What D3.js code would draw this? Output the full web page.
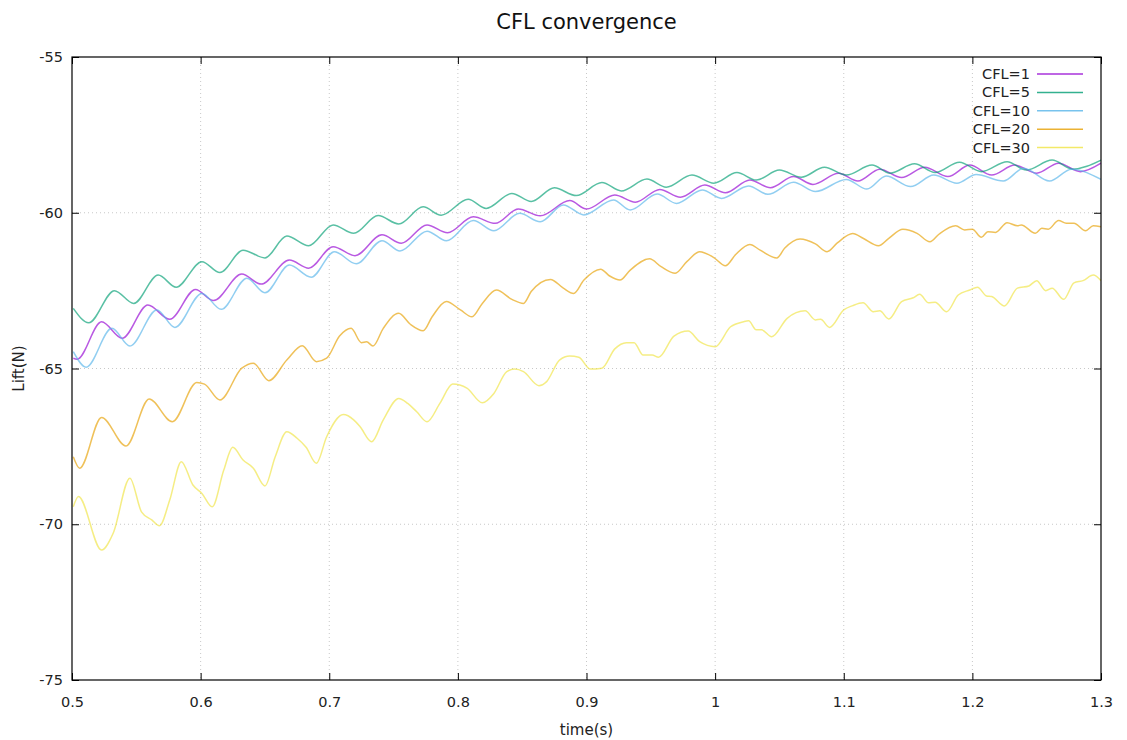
<!DOCTYPE html>
<html>
<head>
<meta charset="utf-8">
<script src="https://cdn.jsdelivr.net/npm/d3@7"></script>
<style>
    body { margin: 0; background: #fff; }
    svg { font-family: 'DejaVu Sans', sans-serif; }
</style>
</head>
<body>
<div class="js-chart"></div>
<script>
'use strict';

//series values as [time, lift]
var cfl1 = [
    [0.501, -64.67], [0.504, -64.70], [0.523, -63.50], [0.539, -64.03], [0.559, -62.96], [0.576, -63.42],
    [0.596, -62.46], [0.610, -62.82], [0.632, -61.97], [0.647, -62.29], [0.669, -61.52], [0.684, -61.78],
    [0.703, -61.09], [0.720, -61.38], [0.741, -60.71], [0.756, -60.98], [0.776, -60.39], [0.792, -60.64],
    [0.812, -60.13], [0.829, -60.34], [0.847, -59.88], [0.864, -60.10], [0.887, -59.61], [0.900, -59.88],
    [0.922, -59.43], [0.938, -59.66], [0.957, -59.25], [0.973, -59.50], [0.992, -59.11], [1.008, -59.36],
    [1.027, -58.95], [1.043, -59.20], [1.061, -58.84], [1.076, -59.09], [1.096, -58.73], [1.111, -58.98],
    [1.128, -58.60], [1.145, -58.87], [1.163, -58.54], [1.181, -58.84], [1.198, -58.47], [1.215, -58.79],
    [1.233, -58.47], [1.250, -58.73], [1.267, -58.41], [1.284, -58.68], [1.300, -58.41]
];

var cfl5 = [
    [0.501, -63.07], [0.513, -63.53], [0.533, -62.50], [0.548, -62.91], [0.567, -62.00], [0.581, -62.39],
    [0.601, -61.57], [0.615, -61.92], [0.633, -61.20], [0.650, -61.45], [0.667, -60.75], [0.684, -61.06],
    [0.703, -60.39], [0.719, -60.66], [0.738, -60.09], [0.754, -60.36], [0.773, -59.81], [0.787, -60.08],
    [0.808, -59.57], [0.822, -59.86], [0.842, -59.38], [0.857, -59.64], [0.875, -59.20], [0.892, -59.45],
    [0.912, -59.03], [0.927, -59.30], [0.947, -58.92], [0.962, -59.18], [0.982, -58.79], [0.999, -59.05],
    [1.017, -58.71], [1.032, -58.95], [1.050, -58.63], [1.067, -58.86], [1.085, -58.54], [1.102, -58.79],
    [1.122, -58.47], [1.136, -58.73], [1.155, -58.43], [1.171, -58.71], [1.190, -58.38], [1.207, -58.68],
    [1.227, -58.36], [1.242, -58.63], [1.262, -58.31], [1.278, -58.60], [1.300, -58.31]
];

var cfl10 = [
    [0.501, -64.46], [0.511, -64.96], [0.531, -63.71], [0.545, -64.28], [0.566, -63.12], [0.580, -63.68],
    [0.601, -62.59], [0.616, -63.10], [0.636, -62.10], [0.650, -62.57], [0.669, -61.68], [0.686, -62.07],
    [0.704, -61.25], [0.721, -61.64], [0.741, -60.90], [0.755, -61.23], [0.776, -60.59], [0.791, -60.90],
    [0.812, -60.25], [0.828, -60.58], [0.848, -60.02], [0.864, -60.29], [0.882, -59.75], [0.898, -60.07],
    [0.921, -59.59], [0.934, -59.91], [0.955, -59.40], [0.970, -59.70], [0.990, -59.27], [1.005, -59.54],
    [1.026, -59.14], [1.041, -59.41], [1.061, -59.02], [1.078, -59.32], [1.102, -58.93], [1.118, -59.24],
    [1.133, -58.82], [1.152, -59.16], [1.170, -58.79], [1.188, -59.05], [1.203, -58.77], [1.224, -58.98],
    [1.240, -58.57], [1.260, -58.98], [1.277, -58.60], [1.300, -58.93]
];

var cfl20 = [
    [0.501, -67.83], [0.506, -68.20], [0.523, -66.57], [0.542, -67.49], [0.560, -65.98], [0.578, -66.71],
    [0.597, -65.45], [0.603, -65.50], [0.615, -66.01], [0.632, -64.99], [0.641, -64.83], [0.653, -65.39],
    [0.667, -64.73], [0.679, -64.27], [0.690, -64.78], [0.698, -64.67], [0.708, -63.96], [0.717, -63.71],
    [0.725, -64.17], [0.729, -64.14], [0.734, -64.28], [0.742, -63.71], [0.754, -63.23], [0.763, -63.58],
    [0.773, -63.79], [0.780, -63.34], [0.791, -62.85], [0.802, -63.12], [0.811, -63.34], [0.819, -62.91],
    [0.830, -62.48], [0.842, -62.78], [0.851, -62.91], [0.857, -62.53], [0.872, -62.14], [0.882, -62.42],
    [0.890, -62.59], [0.898, -62.16], [0.911, -61.81], [0.918, -62.03], [0.926, -62.16], [0.934, -61.84],
    [0.949, -61.48], [0.958, -61.73], [0.969, -61.94], [0.978, -61.57], [0.988, -61.25], [0.999, -61.44],
    [1.008, -61.70], [1.016, -61.34], [1.027, -61.02], [1.035, -61.20], [1.048, -61.45], [1.054, -61.14],
    [1.066, -60.84], [1.078, -61.00], [1.087, -61.25], [1.095, -60.97], [1.107, -60.67], [1.115, -60.82],
    [1.127, -61.06], [1.135, -60.82], [1.146, -60.53], [1.157, -60.66], [1.167, -60.93], [1.174, -60.69],
    [1.187, -60.42], [1.194, -60.55], [1.200, -60.53], [1.207, -60.79], [1.212, -60.61], [1.218, -60.63],
    [1.227, -60.32], [1.235, -60.42], [1.238, -60.39], [1.249, -60.66], [1.254, -60.50], [1.259, -60.53],
    [1.267, -60.25], [1.273, -60.34], [1.279, -60.34], [1.288, -60.58], [1.294, -60.42], [1.300, -60.45]
];

var cfl30 = [
    [0.501, -69.44], [0.505, -69.11], [0.523, -70.83], [0.532, -70.29], [0.545, -68.52], [0.554, -69.60],
    [0.562, -69.86], [0.568, -70.05], [0.576, -69.22], [0.585, -67.99], [0.594, -68.74], [0.601, -69.01],
    [0.609, -69.44], [0.618, -68.26], [0.625, -67.53], [0.633, -67.94], [0.641, -68.20], [0.650, -68.77],
    [0.658, -67.83], [0.667, -67.03], [0.675, -67.24], [0.682, -67.53], [0.690, -68.04], [0.698, -67.19],
    [0.711, -66.48], [0.719, -66.65], [0.724, -66.87], [0.733, -67.35], [0.742, -66.65], [0.754, -65.96],
    [0.761, -66.12], [0.768, -66.39], [0.776, -66.71], [0.786, -66.12], [0.796, -65.50], [0.807, -65.63],
    [0.819, -66.10], [0.828, -65.80], [0.838, -65.10], [0.844, -65.02], [0.851, -65.10], [0.863, -65.55],
    [0.869, -65.42], [0.879, -64.73], [0.887, -64.60], [0.894, -64.64], [0.903, -65.02], [0.912, -64.99],
    [0.922, -64.37], [0.931, -64.17], [0.937, -64.17], [0.944, -64.57], [0.951, -64.57], [0.956, -64.64],
    [0.968, -63.96], [0.979, -63.80], [0.988, -64.14], [1.000, -64.30], [1.012, -63.66], [1.022, -63.50],
    [1.026, -63.47], [1.032, -63.76], [1.036, -63.76], [1.044, -63.98], [1.056, -63.39], [1.070, -63.15],
    [1.078, -63.44], [1.082, -63.42], [1.089, -63.68], [1.100, -63.12], [1.107, -62.98], [1.115, -62.89],
    [1.123, -63.18], [1.128, -63.15], [1.135, -63.41], [1.145, -62.85], [1.154, -62.73], [1.159, -62.62],
    [1.166, -62.89], [1.171, -62.87], [1.180, -63.18], [1.189, -62.64], [1.198, -62.48], [1.204, -62.39],
    [1.211, -62.67], [1.215, -62.69], [1.225, -62.99], [1.235, -62.42], [1.244, -62.35], [1.250, -62.18],
    [1.257, -62.50], [1.262, -62.42], [1.271, -62.78], [1.279, -62.25], [1.286, -62.18], [1.294, -62.00],
    [1.300, -62.18]
];

var seriesNames = ['CFL=1', 'CFL=5', 'CFL=10', 'CFL=20', 'CFL=30'];
var seriesColors = ['#9400d3', '#009e73', '#56b4e9', '#e69f00', '#f0e442'];
var seriesData = [cfl1, cfl5, cfl10, cfl20, cfl30];

var xTicks = [0.5, 0.6, 0.7, 0.8, 0.9, 1, 1.1, 1.2, 1.3];
var yTicks = [-75, -70, -65, -60, -55];

//canvas
var W = 1127, H = 740;
var margin = {top: 57, right: 26, bottom: 60, left: 72};
var w = W - margin.left - margin.right;
var h = H - margin.top - margin.bottom;

var svg = d3.select('.js-chart').append('svg')
    .attr('width', W)
    .attr('height', H);

var x = d3.scaleLinear().domain([0.5, 1.3]).range([0, w]);
var y = d3.scaleLinear().domain([-75, -55]).range([h, 0]);

var vis = svg.append('g')
    .attr('transform', 'translate(' + margin.left + ',' + margin.top + ')');

//dotted grid
vis.selectAll('.js-gx').data(xTicks.slice(1, -1)).enter().append('line')
    .attr('x1', function (d) { return x(d); })
    .attr('x2', function (d) { return x(d); })
    .attr('y1', 0).attr('y2', h)
    .style('stroke', '#c8c8c8')
    .style('stroke-dasharray', '1,3');
vis.selectAll('.js-gy').data(yTicks.slice(1, -1)).enter().append('line')
    .attr('y1', function (d) { return y(d); })
    .attr('y2', function (d) { return y(d); })
    .attr('x1', 0).attr('x2', w)
    .style('stroke', '#c8c8c8')
    .style('stroke-dasharray', '1,3');

//axes - gnuplot style, ticks inward and mirrored
//plain hyphen for negatives like gnuplot, not the unicode minus
var fmtX = function (d) { return d === 1 ? '1' : d.toFixed(1); };
var fmtY = function (d) { return String(d); };

function styleAxis(g) {
    g.select('.domain').remove();
    g.selectAll('.tick line').style('stroke', '#000');
    g.selectAll('.tick text').style('font-size', '14.5px').style('fill', '#222')
        .style('font-family', "'DejaVu Sans', sans-serif");
}

vis.append('g')
    .attr('transform', 'translate(0,' + h + ')')
    .call(d3.axisBottom(x).tickValues(xTicks).tickFormat(fmtX).tickSizeInner(-7).tickSizeOuter(0).tickPadding(17))
    .call(styleAxis);
vis.append('g')
    .call(d3.axisTop(x).tickValues(xTicks).tickFormat('').tickSizeInner(-7).tickSizeOuter(0))
    .call(styleAxis);
vis.append('g')
    .call(d3.axisLeft(y).tickValues(yTicks).tickFormat(fmtY).tickSizeInner(-7).tickSizeOuter(0).tickPadding(9))
    .call(styleAxis);
vis.append('g')
    .attr('transform', 'translate(' + w + ',0)')
    .call(d3.axisRight(y).tickValues(yTicks).tickFormat('').tickSizeInner(-7).tickSizeOuter(0))
    .call(styleAxis);

//curves
var line = d3.line()
    .x(function (d) { return x(d[0]); })
    .y(function (d) { return y(d[1]); })
    .curve(d3.curveMonotoneX);

vis.append('defs').append('clipPath').attr('id', 'clip')
    .append('rect').attr('width', w).attr('height', h);

vis.append('g').attr('clip-path', 'url(#clip)')
    .selectAll('.js-series').data(seriesData).enter().append('path')
    .attr('class', 'js-series')
    .attr('d', line)
    .style('fill', 'none')
    .style('stroke', function (d, i) { return seriesColors[i]; })
    .style('stroke-width', 1.5)
    .style('stroke-opacity', 0.65);

//border
vis.append('rect')
    .attr('width', w).attr('height', h)
    .style('fill', 'none')
    .style('stroke', '#000')
    .style('stroke-width', 1.2);

//legend - top right inside
var legend = vis.append('g').attr('transform', 'translate(' + (w - 71) + ',17)');
seriesNames.forEach(function (name, i) {
    var row = legend.append('g').attr('transform', 'translate(0,' + (i * 18.4) + ')');
    row.append('text')
        .attr('x', 0).attr('y', 0).attr('dy', '0.35em')
        .attr('text-anchor', 'end')
        .style('font-size', '14.5px')
        .style('fill', '#222')
        .text(name);
    row.append('line')
        .attr('x1', 7).attr('x2', 53)
        .style('stroke', seriesColors[i])
        .style('stroke-width', 1.5)
        .style('stroke-opacity', 0.8);
});

//titles
svg.append('text')
    .attr('x', margin.left + w / 2).attr('y', 29)
    .attr('text-anchor', 'middle')
    .style('font-size', '21px')
    .style('fill', '#111')
    .text('CFL convergence');
svg.append('text')
    .attr('x', margin.left + w / 2).attr('y', 735)
    .attr('text-anchor', 'middle')
    .style('font-size', '15px')
    .style('fill', '#222')
    .text('time(s)');
svg.append('text')
    .attr('transform', 'translate(24,' + (margin.top + h / 2) + ') rotate(-90)')
    .attr('text-anchor', 'middle')
    .style('font-size', '15px')
    .style('fill', '#222')
    .text('Lift(N)');
</script>
</body>
</html>
